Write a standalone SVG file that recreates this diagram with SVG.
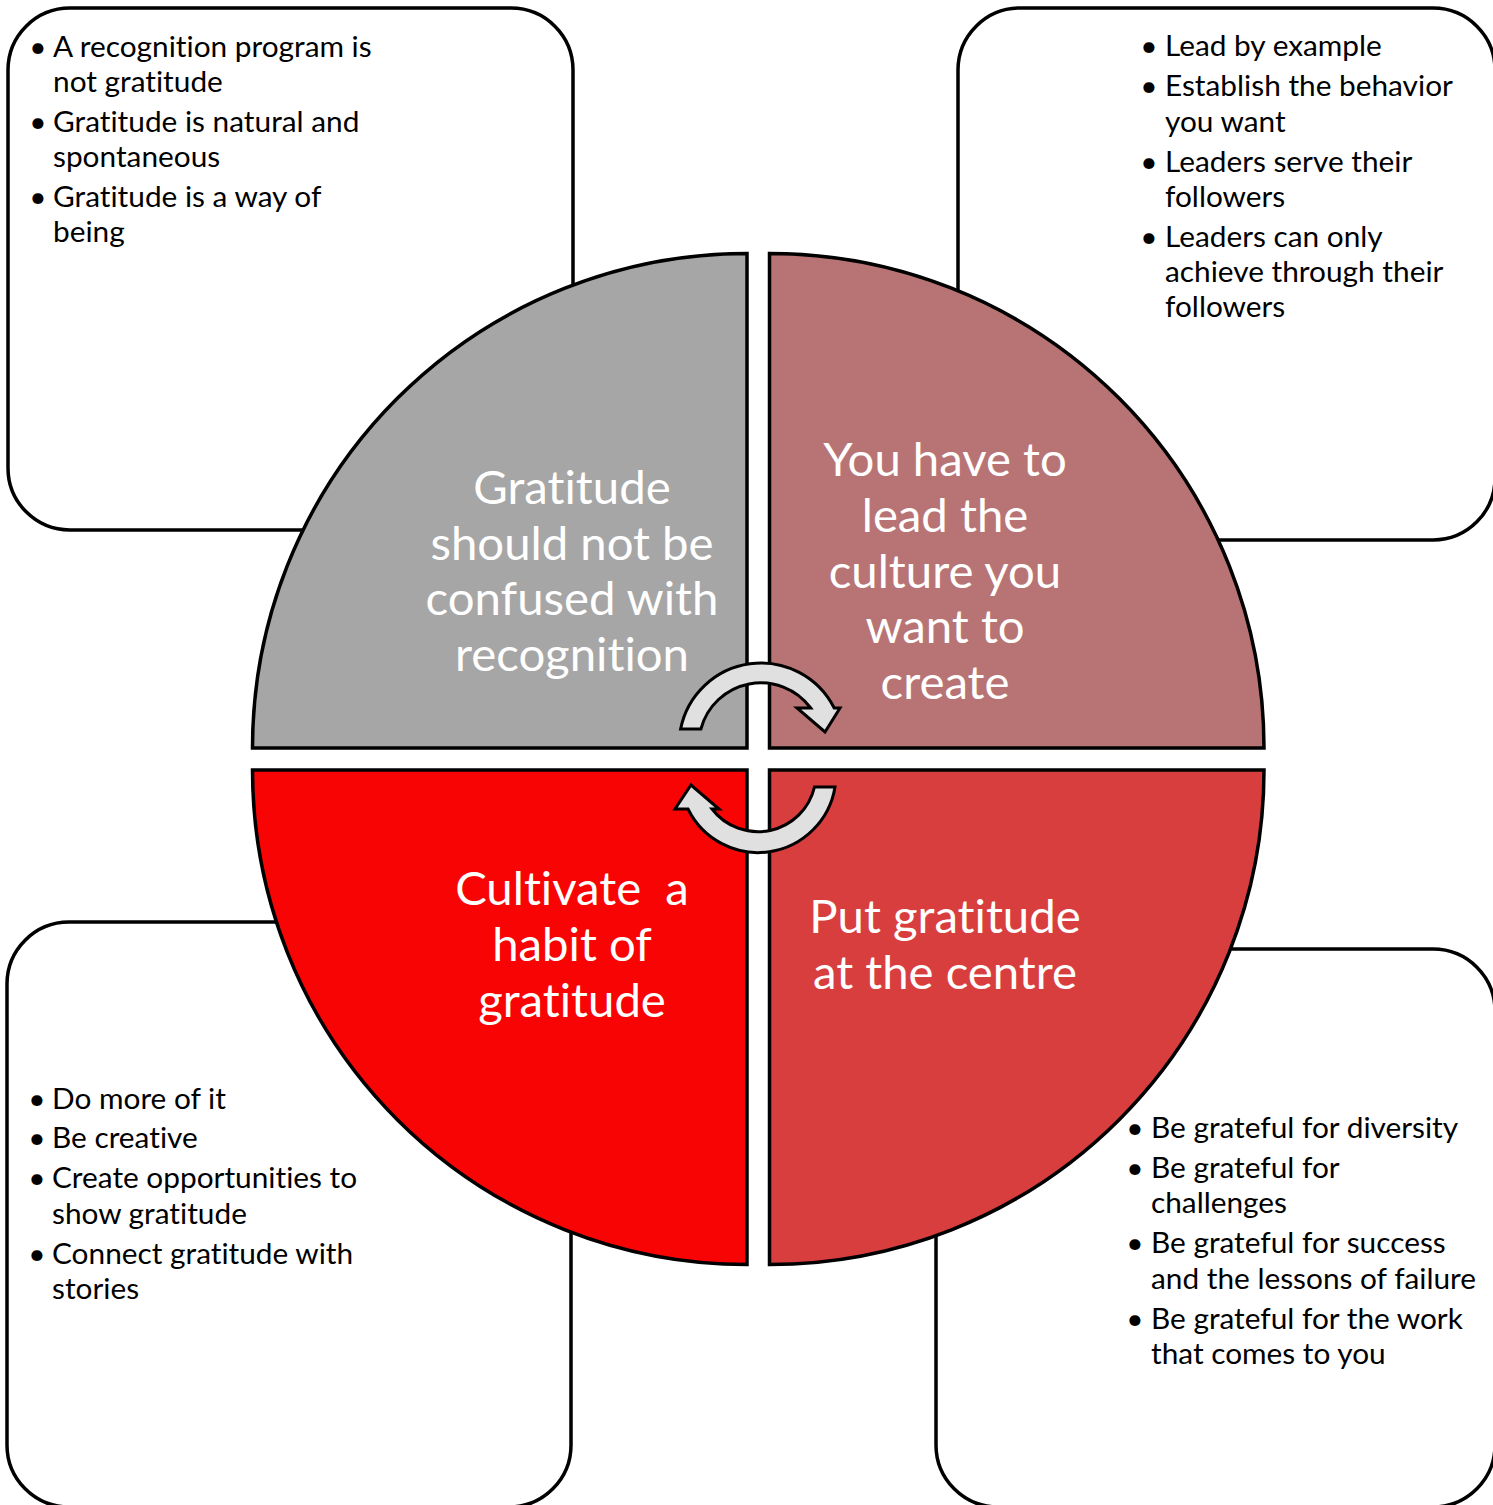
<svg xmlns="http://www.w3.org/2000/svg" width="1493" height="1505" viewBox="0 0 1493 1505">
<style>
text{font-variant-ligatures:none;font-feature-settings:"liga" 0,"clig" 0,"dlig" 0}
.box{fill:#fff;stroke:#000;stroke-width:3.5}
.quad{stroke:#000;stroke-width:3.5}
.big{font-family:Lato,"Open Sans","Liberation Sans",sans-serif;font-size:47.3px;fill:#fff;text-anchor:middle}
.bl{font-family:Lato,"Open Sans","Liberation Sans",sans-serif;font-size:29.8px;fill:#000}
.dot{text-anchor:middle}
.arrow{fill:#e0e0e0;stroke:#000;stroke-width:3;stroke-linejoin:miter}
</style>
<rect width="1493" height="1505" fill="#fff"/>

<g id="box-tl">
<rect class="box" x="8" y="8" width="565" height="522" rx="62"/>
<text class="bl"><tspan class="dot" x="38" y="57">•</tspan><tspan x="53" y="57">A recognition program is</tspan><tspan x="53" y="92">not gratitude</tspan><tspan class="dot" x="38" y="132">•</tspan><tspan x="53" y="132">Gratitude is natural and</tspan><tspan x="53" y="167">spontaneous</tspan><tspan class="dot" x="38" y="207">•</tspan><tspan x="53" y="207">Gratitude is a way of</tspan><tspan x="53" y="242">being</tspan></text>
</g>

<g id="box-tr">
<rect class="box" x="958" y="8" width="537" height="532" rx="62"/>
<text class="bl"><tspan class="dot" x="1149" y="56">•</tspan><tspan x="1165" y="56">Lead by example</tspan><tspan class="dot" x="1149" y="96">•</tspan><tspan x="1165" y="96">Establish the behavior</tspan><tspan x="1165" y="132">you want</tspan><tspan class="dot" x="1149" y="172">•</tspan><tspan x="1165" y="172">Leaders serve their</tspan><tspan x="1165" y="207">followers</tspan><tspan class="dot" x="1149" y="247">•</tspan><tspan x="1165" y="247">Leaders can only</tspan><tspan x="1165" y="282">achieve through their</tspan><tspan x="1165" y="317">followers</tspan></text>
</g>

<g id="box-bl">
<rect class="box" x="7" y="922" width="564" height="585" rx="62"/>
<text class="bl"><tspan class="dot" x="37" y="1109">•</tspan><tspan x="52" y="1109">Do more of it</tspan><tspan class="dot" x="37" y="1148">•</tspan><tspan x="52" y="1148">Be creative</tspan><tspan class="dot" x="37" y="1188">•</tspan><tspan x="52" y="1188">Create opportunities to</tspan><tspan x="52" y="1224">show gratitude</tspan><tspan class="dot" x="37" y="1264">•</tspan><tspan x="52" y="1264">Connect gratitude with</tspan><tspan x="52" y="1299">stories</tspan></text>
</g>

<g id="box-br">
<rect class="box" x="936" y="949" width="559" height="558" rx="62"/>
<text class="bl"><tspan class="dot" x="1135" y="1138">•</tspan><tspan x="1151" y="1138">Be grateful for diversity</tspan><tspan class="dot" x="1135" y="1178">•</tspan><tspan x="1151" y="1178">Be grateful for</tspan><tspan x="1151" y="1213">challenges</tspan><tspan class="dot" x="1135" y="1253">•</tspan><tspan x="1151" y="1253">Be grateful for success</tspan><tspan x="1151" y="1289">and the lessons of failure</tspan><tspan class="dot" x="1135" y="1329">•</tspan><tspan x="1151" y="1329">Be grateful for the work</tspan><tspan x="1151" y="1364">that comes to you</tspan></text>
</g>

<g id="quad-tl">
<path class="quad" fill="#a6a6a6" d="M747,748 L252.5,748 A494.5,494.5 0 0 1 747,253.5 Z"/>
<text class="big"><tspan x="572" y="504">Gratitude</tspan><tspan x="572" y="560">should not be</tspan><tspan x="572" y="615">confused with</tspan><tspan x="572" y="671">recognition</tspan></text>
</g>

<g id="quad-tr">
<path class="quad" fill="#b87474" d="M769.5,748 L769.5,253.5 A494.5,494.5 0 0 1 1264,748 Z"/>
<text class="big"><tspan x="945" y="476">You have to</tspan><tspan x="945" y="532">lead the</tspan><tspan x="945" y="588">culture you</tspan><tspan x="945" y="643">want to</tspan><tspan x="945" y="699">create</tspan></text>
</g>

<g id="quad-bl">
<path class="quad" fill="#f90404" d="M747,770 L252.5,770 A494.5,494.5 0 0 0 747,1264.5 Z"/>
<text class="big" xml:space="preserve"><tspan x="572" y="905">Cultivate  a</tspan><tspan x="572" y="961">habit of</tspan><tspan x="572" y="1017">gratitude</tspan></text>
</g>

<g id="quad-br">
<path class="quad" fill="#d93e3f" d="M769.5,770 L1264,770 A494.5,494.5 0 0 1 769.5,1264.5 Z"/>
<text class="big"><tspan x="945" y="933">Put gratitude</tspan><tspan x="945" y="989">at the centre</tspan></text>
</g>

<g id="connectors">
<path class="arrow" d="M680.6,729 A82,82 0 0 1 834.2,708 L840,708 L825,732 L797,708 L810.7,708 A62,62 0 0 0 700.9,729 Z"/>
<path class="arrow" d="M835,787 A78,78 0 0 1 688,809 L675,809 L691,785 L719,809 L712,809 A58,58 0 0 0 814.5,787 Z"/>
</g>
</svg>
